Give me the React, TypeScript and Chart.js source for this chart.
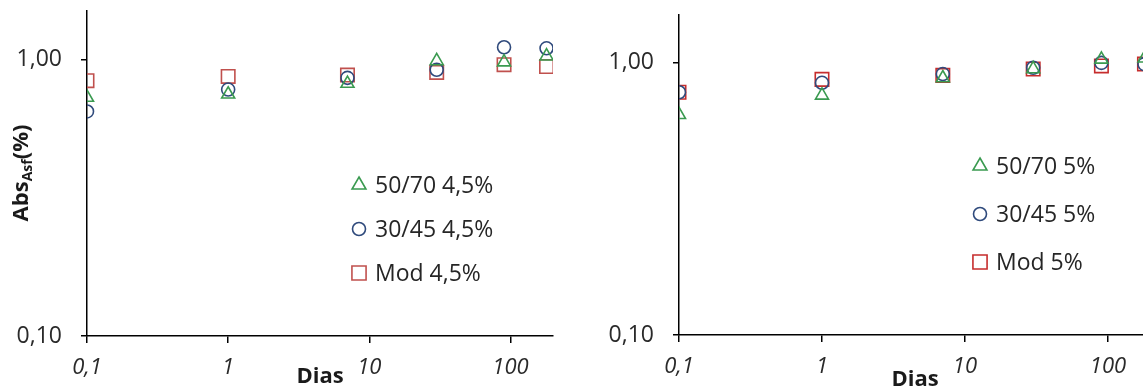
import React, { useEffect, useRef } from 'react';
import { Chart, registerables } from 'chart.js';
import { drawPoint } from 'chart.js/helpers';

Chart.register(...registerables);

// ---- data ----
const days = [0.1, 1, 7, 30, 90, 180];
const xTickValues = [0.1, 1, 10, 100];
const xTickLabels = ['0,1', '1', '10', '100'];
const yTickValues = [0.1, 1];
const yTickLabels = ['0,10', '1,00'];

const leftLabels = ['50/70 4,5%', '30/45 4,5%', 'Mod 4,5%'];
const left5070 = [0.73, 0.75, 0.82, 0.99, 0.98, 1.03];
const left3045 = [0.65, 0.78, 0.86, 0.92, 1.11, 1.1];
const leftMod = [0.84, 0.87, 0.88, 0.9, 0.96, 0.945];

const rightLabels = ['50/70 5%', '30/45 5%', 'Mod 5%'];
const right5070 = [0.645, 0.76, 0.88, 0.95, 1.03, 1.04];
const right3045 = [0.78, 0.845, 0.91, 0.96, 1.0, 0.99];
const rightMod = [0.78, 0.87, 0.9, 0.95, 0.975, 0.99];

const xAxisTitle = 'Dias';
const yTitleMain = 'Abs';
const yTitleSub = 'Asf';
const yTitleEnd = '(%)';

// ---- styles ----
const FONT = "'Open Sans', sans-serif";
const GREEN = '#3a9a50';
const BLUE = '#2f4a7c';
const RED_LEFT = '#c0504d';
const RED_RIGHT = '#c62d2d';

const legendPlugin = {
  id: 'inlineLegend',
  afterDraw(chart: any, _args: any, opts: any) {
    if (!opts || !opts.display) return;
    const ctx = chart.ctx;
    ctx.save();
    chart.data.datasets.forEach((ds: any, i: number) => {
      const y = opts.y + i * opts.spacing;
      ctx.strokeStyle = ds.pointBorderColor;
      ctx.fillStyle = 'rgba(0,0,0,0)';
      ctx.lineWidth = 1.6;
      drawPoint(ctx, { pointStyle: ds.pointStyle, radius: ds.legendRadius, rotation: 0, borderWidth: 1.6 }, opts.x, y);
      ctx.fillStyle = '#262626';
      ctx.font = `23px ${FONT}`;
      ctx.textBaseline = 'middle';
      ctx.textAlign = 'left';
      ctx.fillText(ds.label, opts.x + 16, y + 1);
    });
    ctx.restore();
  },
};

const yTitlePlugin = {
  id: 'yTitle',
  afterDraw(chart: any, _args: any, opts: any) {
    if (!opts || !opts.display) return;
    const ctx = chart.ctx;
    ctx.save();
    ctx.translate(opts.x, opts.y);
    ctx.rotate(-Math.PI / 2);
    ctx.fillStyle = '#1a1a1a';
    const big = `bold 22px ${FONT}`;
    const small = `bold 14px ${FONT}`;
    ctx.font = big;
    const w1 = ctx.measureText(yTitleMain).width;
    const w3 = ctx.measureText(yTitleEnd).width;
    ctx.font = small;
    const w2 = ctx.measureText(yTitleSub).width;
    let x = -(w1 + w2 + w3) / 2;
    ctx.textBaseline = 'alphabetic';
    ctx.textAlign = 'left';
    ctx.font = big;
    ctx.fillText(yTitleMain, x, 7);
    x += w1;
    ctx.font = small;
    ctx.fillText(yTitleSub, x, 11);
    x += w2;
    ctx.font = big;
    ctx.fillText(yTitleEnd, x, 7);
    ctx.restore();
  },
};

function makeDatasets(labels: string[], a: number[], b: number[], c: number[], red: string) {
  const mk = (label: string, vals: number[], color: string, style: string, r: number, lr: number) => ({
    label,
    data: days.map((d, i) => ({ x: d, y: vals[i] })),
    pointStyle: style,
    pointRadius: r,
    pointHoverRadius: r,
    legendRadius: lr,
    pointBorderColor: color,
    pointBackgroundColor: 'rgba(0,0,0,0)',
    pointBorderWidth: 1.6,
    showLine: false,
  });
  return [
    mk(labels[0], a, GREEN, 'triangle', 7.5, 8),
    mk(labels[1], b, BLUE, 'circle', 6.5, 6.5),
    mk(labels[2], c, red, 'rect', 9.5, 10),
  ];
}

function zeroPadding(s: any) {
  s.paddingTop = 0;
  s.paddingBottom = 0;
  s.paddingLeft = 0;
  s.paddingRight = 0;
}

function makeConfig(p: {
  datasets: any[];
  padTop: number;
  padRight: number;
  yWidth: number;
  xHeight: number;
  titlePadBottom: number;
  legend: { x: number; y: number; spacing: number };
  yTitle: boolean;
}): any {
  const tickGrid = {
    display: true,
    drawOnChartArea: false,
    drawTicks: true,
    color: '#000',
    lineWidth: 1.5,
  };
  return {
    type: 'scatter',
    data: { datasets: p.datasets },
    plugins: [legendPlugin, yTitlePlugin],
    options: {
      animation: false,
      responsive: false,
      devicePixelRatio: 1,
      layout: { padding: { top: p.padTop, right: p.padRight, left: 0, bottom: 0 } },
      plugins: {
        legend: { display: false },
        tooltip: { enabled: false },
        inlineLegend: { display: true, ...p.legend },
        yTitle: { display: p.yTitle, x: 21, y: 173 },
      },
      scales: {
        x: {
          type: 'logarithmic',
          min: 0.1,
          max: 200,
          afterBuildTicks: (s: any) => {
            s.ticks = xTickValues.map((v) => ({ value: v }));
          },
          afterFit: (s: any) => {
            s.height = p.xHeight;
            zeroPadding(s);
          },
          ticks: {
            autoSkip: false,
            maxRotation: 0,
            padding: 12,
            color: '#2a2a2a',
            font: { family: FONT, size: 22, style: 'italic' },
            callback: (v: any) => {
              const i = xTickValues.indexOf(Number(v));
              return i >= 0 ? xTickLabels[i] : '';
            },
          },
          grid: { ...tickGrid, tickLength: 7 },
          border: { display: true, color: '#000', width: 1.5 },
          title: {
            display: true,
            text: xAxisTitle,
            color: '#1a1a1a',
            font: { family: FONT, size: 22, weight: 'bold', lineHeight: 1 },
            padding: { top: 0, bottom: p.titlePadBottom },
          },
        },
        y: {
          type: 'logarithmic',
          min: 0.1,
          max: 1.5,
          afterBuildTicks: (s: any) => {
            s.ticks = yTickValues.map((v) => ({ value: v }));
          },
          afterFit: (s: any) => {
            s.width = p.yWidth;
            zeroPadding(s);
          },
          ticks: {
            autoSkip: false,
            padding: 19,
            color: '#2a2a2a',
            font: { family: FONT, size: 23 },
            callback: (v: any) => {
              const i = yTickValues.indexOf(Number(v));
              return i >= 0 ? yTickLabels[i] : '';
            },
          },
          grid: { ...tickGrid, tickLength: 6 },
          border: { display: true, color: '#000', width: 1.5 },
        },
      },
    },
  };
}

function Panel(props: { left: number; width: number; config: any }) {
  const ref = useRef<HTMLCanvasElement | null>(null);
  useEffect(() => {
    if (!ref.current) return;
    const chart = new Chart(ref.current, props.config);
    return () => chart.destroy();
  }, []);
  return (
    <canvas
      ref={ref}
      width={props.width}
      height={391}
      style={{ position: 'absolute', left: props.left, top: 0, width: props.width, height: 391 }}
    />
  );
}

export default function App() {
  const leftConfig = makeConfig({
    datasets: makeDatasets(leftLabels, left5070, left3045, leftMod, RED_LEFT),
    padTop: 11,
    padRight: 17,
    yWidth: 87,
    xHeight: 55,
    titlePadBottom: 3,
    legend: { x: 359, y: 185, spacing: 44 },
    yTitle: true,
  });
  const rightConfig = makeConfig({
    datasets: makeDatasets(rightLabels, right5070, right3045, rightMod, RED_RIGHT),
    padTop: 15,
    padRight: 19,
    yWidth: 109,
    xHeight: 56,
    titlePadBottom: 0,
    legend: { x: 410, y: 166, spacing: 48 },
    yTitle: false,
  });
  return (
    <div
      style={{
        position: 'fixed',
        left: 0,
        top: 0,
        width: 1143,
        height: 391,
        overflow: 'hidden',
        background: '#fff',
      }}
    >
      <Panel left={0} width={570} config={leftConfig} />
      <Panel left={570} width={600} config={rightConfig} />
    </div>
  );
}
